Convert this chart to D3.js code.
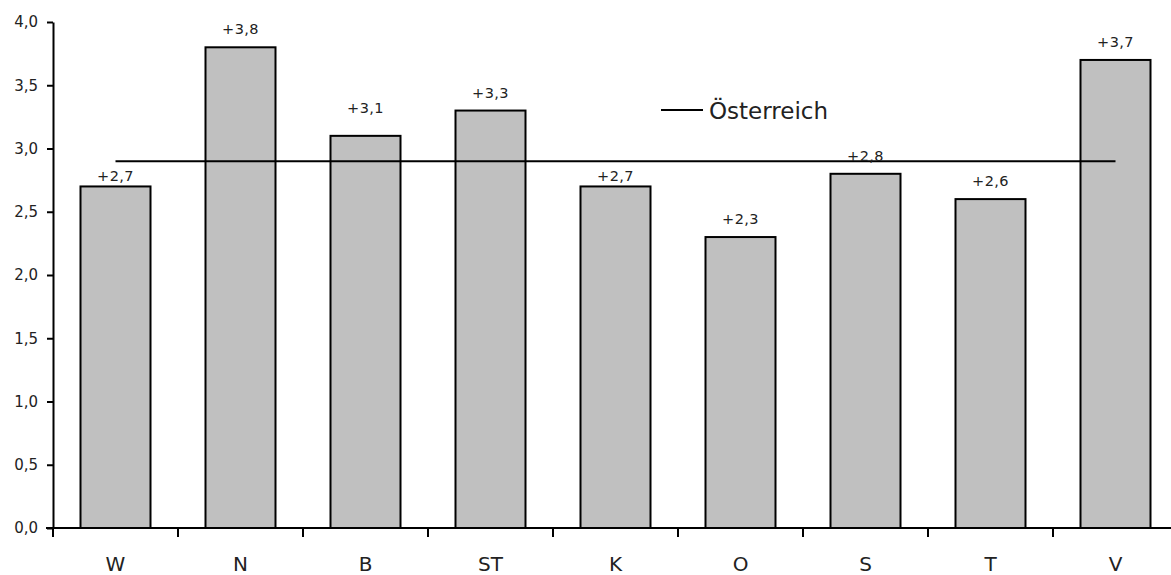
<!DOCTYPE html>
<html>
<head>
<meta charset="utf-8">
<script src="https://cdn.jsdelivr.net/npm/d3@7"></script>
<style>
  html, body { margin: 0; padding: 0; background: #fff; }
  svg { display: block; }
  text { font-family: "DejaVu Sans", sans-serif; fill: #222; }
</style>
</head>
<body>
<svg id="chart" width="1171" height="575"></svg>
<script>
// Bundesländer and their growth rates (percent)
const regions = ["W", "N", "B", "ST", "K", "O", "S", "T", "V"];
const growth = [2.7, 3.8, 3.1, 3.3, 2.7, 2.3, 2.8, 2.6, 3.7];
const austria = 2.9;
const austriaLabel = "Österreich";
const yTicks = [0, 0.5, 1, 1.5, 2, 2.5, 3, 3.5, 4];

const svg = d3.select("#chart");
const x0 = 53, x1 = 1178, yTop = 22, yBottom = 528;

const locale = d3.formatLocale({ decimal: ",", thousands: ".", grouping: [3], currency: ["", " €"] });
const fmtTick = locale.format(".1f");
const fmtLabel = locale.format("+.1f");

const x = d3.scaleBand().domain(regions).range([x0, x1]).paddingInner(0.44).paddingOuter(0.22);
const y = d3.scaleLinear().domain([0, 4]).range([yBottom, yTop]);

// bars
svg.append("g").selectAll("rect")
  .data(regions)
  .join("rect")
  .attr("x", d => x(d))
  .attr("y", (d, i) => y(growth[i]))
  .attr("width", x.bandwidth())
  .attr("height", (d, i) => y(0) - y(growth[i]))
  .attr("fill", "#c0c0c0")
  .attr("stroke", "#000")
  .attr("stroke-width", 2);

// Austria reference line from first to last bar centre
svg.append("line")
  .attr("x1", x(regions[0]) + x.bandwidth() / 2)
  .attr("x2", x(regions[regions.length - 1]) + x.bandwidth() / 2)
  .attr("y1", y(austria)).attr("y2", y(austria))
  .attr("stroke", "#000").attr("stroke-width", 2);

// value labels; a few are shifted to stay clear of the reference line
const labelShift = { W: -8, K: -8, B: 10 };
svg.append("g").selectAll("text")
  .data(regions)
  .join("text")
  .attr("x", d => x(d) + x.bandwidth() / 2)
  .attr("y", (d, i) => y(growth[i]) - 13 - (labelShift[d] || 0))
  .attr("text-anchor", "middle")
  .attr("font-size", 14.5)
  .attr("letter-spacing", 0.4)
  .text((d, i) => fmtLabel(growth[i]));

// y axis
const yAxis = svg.append("g")
  .attr("transform", `translate(${x0},0)`)
  .call(d3.axisLeft(y).tickValues(yTicks).tickFormat(fmtTick).tickSize(6).tickPadding(9).tickSizeOuter(0));
yAxis.select(".domain").attr("stroke", "#000").attr("stroke-width", 2);
yAxis.selectAll(".tick line").attr("stroke", "#000").attr("stroke-width", 2);
yAxis.selectAll(".tick text").attr("font-size", 15).attr("font-family", "DejaVu Sans").attr("fill", "#222");

// x axis: category boundaries as ticks
const xAxis = svg.append("g").attr("transform", `translate(0,${yBottom})`);
xAxis.append("line").attr("x1", x0 - 7).attr("x2", x1).attr("y1", 0).attr("y2", 0)
  .attr("stroke", "#000").attr("stroke-width", 2);
const step = x.step();
xAxis.selectAll("line.tk")
  .data(d3.range(regions.length))
  .join("line").attr("class", "tk")
  .attr("x1", i => x(regions[i]) - x.paddingOuter() * step)
  .attr("x2", i => x(regions[i]) - x.paddingOuter() * step)
  .attr("y1", 0).attr("y2", 9)
  .attr("stroke", "#000").attr("stroke-width", 2);
xAxis.selectAll("text")
  .data(regions)
  .join("text")
  .attr("x", d => x(d) + x.bandwidth() / 2)
  .attr("y", 43)
  .attr("text-anchor", "middle")
  .attr("font-size", 20)
  .text(d => d);

// legend
const lg = svg.append("g").attr("transform", "translate(661,110)");
lg.append("line").attr("x1", 0).attr("x2", 42).attr("y1", 0).attr("y2", 0)
  .attr("stroke", "#000").attr("stroke-width", 2);
lg.append("text").attr("x", 48).attr("y", 9).attr("font-size", 23).text(austriaLabel);
</script>
</body>
</html>
